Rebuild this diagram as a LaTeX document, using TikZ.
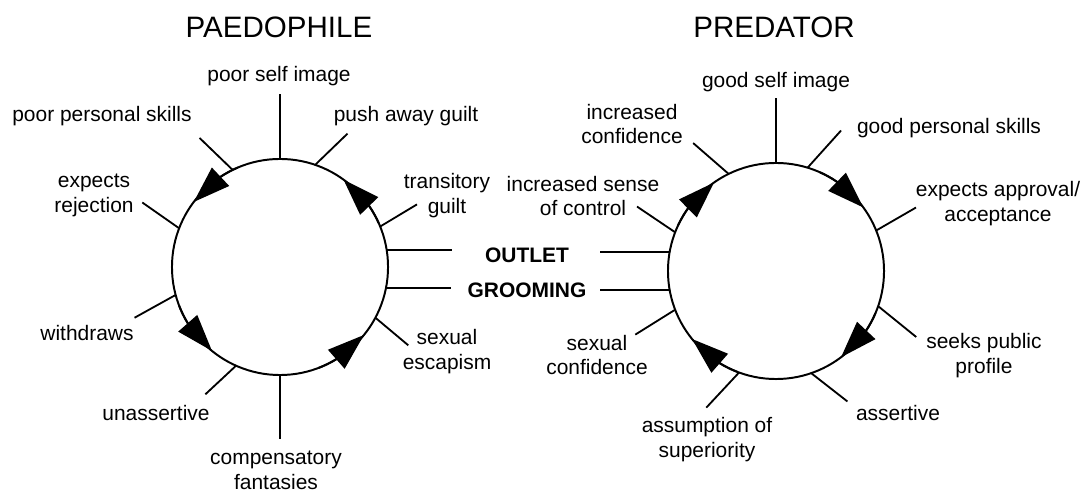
\documentclass[tikz,border=0pt]{standalone}
\usepackage{fontspec}
\setmainfont{Liberation Sans}
\usetikzlibrary{arrows.meta,bending}

\begin{document}
\begin{tikzpicture}[x=0.025cm, y=0.025cm,
    ring/.style={circle, draw, line width=1.4pt, minimum size=5.4cm, inner sep=0pt, outer sep=0pt},
    spoke/.style={line width=1.3pt},
    turn/.style={line width=1.4pt, -{Triangle[length=0.92cm, width=0.62cm, flex]}},
    lbl/.style={inner sep=0pt, align=center, font=\fontsize{14.9}{17.7}\selectfont},
    title/.style={inner sep=0pt, font=\fontsize{21}{24}\selectfont}]

    \useasboundingbox (0,0) rectangle (1086,493);

    % --- The two cycles ---
    \node[ring] (pl) at (280,226) {};
    \node[ring] (pr) at (776,222) {};

    % --- Titles ---
    \node[title] (tl) at (279,466) {PAEDOPHILE};
    \node[title] (tr) at (774,466) {PREDATOR};

    % --- Direction of travel (left anticlockwise, right clockwise) ---
    \foreach \s/\t in {24/54, 113/143, 201/231, 291/321} {
        \draw[turn] (pl.\s) arc[start angle=\s, end angle=\t, radius=108];
    }
    \foreach \s/\t in {66/36, 155/125, 249/219, 337/307} {
        \draw[turn] (pr.\s) arc[start angle=\s, end angle=\t, radius=108];
    }

    % --- Spokes: angle on ring / direction / length ---
    \foreach \a/\d/\l in {90/90/65, 71/44/45, 116/136/46, 159/145/45, 22/31/43,
                          332/320/43, 270/270/64, 246/223/42, 195/209/47,
                          9/0/65, 349/0/65} {
        \draw[spoke] (pl.\a) -- ++(\d:\l);
    }
    \foreach \a/\d/\l in {90/90/65, 116/139/47, 73/48/50, 159/146/46, 22/30/46,
                          170/180/70, 190/180/70, 341/321/49, 201/212/47,
                          250/227/48, 289/322/46} {
        \draw[spoke] (pr.\a) -- ++(\d:\l);
    }

    % --- Paedophile labels ---
    \node[lbl] (pself)  at (279,417) {poor self image};
    \node[lbl] (pguilt) at (406,377) {push away guilt};
    \node[lbl] (pskill) at (102,377) {poor personal skills};
    \node[lbl] (prej)   at (94,298)  {expects\\rejection};
    \node[lbl] (ptrans) at (447,297) {transitory\\guilt};
    \node[lbl] (pesc)   at (447,141) {sexual\\escapism};
    \node[lbl] (pfant)  at (276,23)  {compensatory\\fantasies};
    \node[lbl] (punass) at (156,80)  {unassertive};
    \node[lbl] (pwith)  at (87,160)  {withdraws};

    % --- Shared labels ---
    \node[lbl, font=\fontsize{14.9}{17.7}\selectfont\bfseries] (outlet) at (527,238) {OUTLET};
    \node[lbl, font=\fontsize{14.9}{17.7}\selectfont\bfseries] (groom)  at (527,203) {GROOMING};

    % --- Predator labels ---
    \node[lbl] (rself)  at (776,411) {good self image};
    \node[lbl] (rconf)  at (632,369) {increased\\confidence};
    \node[lbl] (rskill) at (949,365) {good personal skills};
    \node[lbl] (rctrl)  at (583,297) {increased sense\\of control};
    \node[lbl] (rappr)  at (998,289) {expects approval/\\acceptance};
    \node[lbl] (rpub)   at (984,137) {seeks public\\profile};
    \node[lbl] (rsex)   at (597,138) {sexual\\confidence};
    \node[lbl] (rsup)   at (707,53)  {assumption of\\superiority};
    \node[lbl] (rass)   at (898,80)  {assertive};

\end{tikzpicture}
\end{document}
